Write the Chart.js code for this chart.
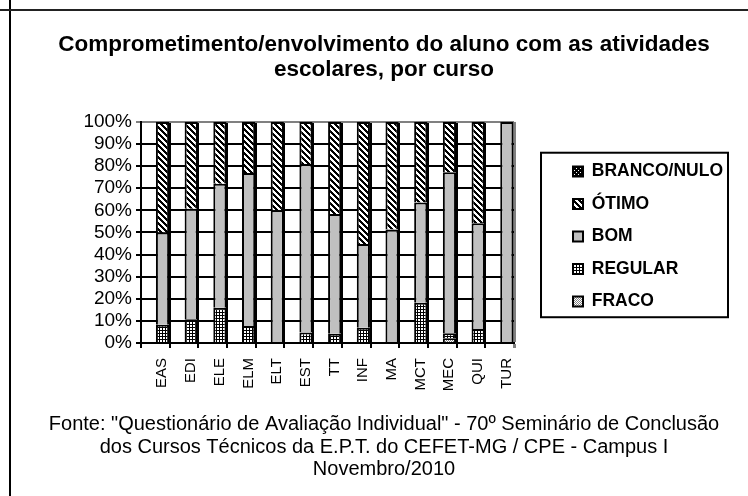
<!DOCTYPE html>
<html><head><meta charset="utf-8">
<script src="https://cdn.jsdelivr.net/npm/chart.js@4.4.1/dist/chart.umd.min.js"></script>
<style>
html,body{margin:0;padding:0;background:#fff;}
#wrap{position:relative;width:748px;height:496px;overflow:hidden;background:#fff;}
canvas{position:absolute;left:0;top:0;}
.vline{position:absolute;left:9px;top:0;width:2px;height:496px;background:#000;}
.hline{position:absolute;left:0;top:9px;width:748px;height:2px;background:#222;}
</style></head><body>
<div id="wrap"><canvas id="c" width="748" height="496"></canvas><div class="vline"></div><div class="hline"></div></div>
<script>
const categories = ['EAS','EDI','ELE','ELM','ELT','EST','TT','INF','MA','MCT','MEC','QUI','TUR'];
const fraco      = [0, 0, 0, 0, 0, 0, 0, 0, 0, 0, 2.2, 0, 0];
const regular    = [8.3, 10.7, 16.0, 7.7, 0, 4.8, 4.2, 6.9, 0, 18.2, 2.2, 6.3, 0];
const bom        = [41.7, 50.0, 56.0, 69.2, 60.0, 76.2, 54.2, 37.9, 51.4, 45.4, 72.9, 47.9, 100];
const otimo      = [50.0, 39.3, 28.0, 23.1, 40.0, 19.0, 41.6, 55.2, 48.6, 36.4, 22.7, 45.8, 0];
const brancoNulo = [0, 0, 0, 0, 0, 0, 0, 0, 0, 0, 0, 0, 0];
const seriesNames = ['FRACO', 'REGULAR', 'BOM', 'ÓTIMO', 'BRANCO/NULO'];
const yTickLabels = ['0%','10%','20%','30%','40%','50%','60%','70%','80%','90%','100%'];
const titleLines = ['Comprometimento/envolvimento do aluno com as atividades', 'escolares, por curso'];
const footerLines = ['Fonte: "Questionário de Avaliação Individual" - 70º Seminário de Conclusão',
                     'dos Cursos Técnicos da E.P.T. do CEFET-MG / CPE - Campus I',
                     'Novembro/2010'];

const FONT = "'Liberation Sans', Arial, sans-serif";
const canvas = document.getElementById('c');
const ctx = canvas.getContext('2d');

function makePattern(size, paint) {
  const c = document.createElement('canvas');
  c.width = size; c.height = size;
  const g = c.getContext('2d');
  paint(g, size);
  return ctx.createPattern(c, 'repeat');
}
const patOtimo = makePattern(6, (g, s) => {
  g.fillStyle = '#fff'; g.fillRect(0, 0, s, s);
  g.fillStyle = '#000';
  for (let y = 0; y < s; y++) for (let x = 0; x < s; x++)
    if ((((x - y) % s) + s) % s < 3) g.fillRect(x, y, 1, 1);
});
const patRegular = makePattern(3, (g, s) => {
  g.fillStyle = '#fff'; g.fillRect(0, 0, s, s);
  g.fillStyle = '#000'; g.fillRect(0, 0, s, 1); g.fillRect(0, 0, 1, s);
});
const patFraco = makePattern(2, (g, s) => {
  g.fillStyle = '#fff'; g.fillRect(0, 0, s, s);
  g.fillStyle = '#808080'; g.fillRect(0, 0, 1, 1); g.fillRect(1, 1, 1, 1);
});
const patBranco = makePattern(4, (g, s) => {
  g.fillStyle = '#000'; g.fillRect(0, 0, s, s);
  g.fillStyle = '#fff'; g.fillRect(0, 0, 1, 1); g.fillRect(2, 2, 1, 1);
});

const legendBorder = {
  id: 'legendBorder',
  afterDraw(chart) {
    const L = chart.legend;
    if (!L || !L.legendHitBoxes || !L.legendHitBoxes.length) return;
    const hb = L.legendHitBoxes;
    const last = hb[hb.length - 1];
    const c = chart.ctx;
    c.save();
    c.strokeStyle = '#000';
    c.lineWidth = 2;
    const x1 = hb[0].left - 32;
    const x2 = Math.max(...hb.map(h => h.left + h.width)) + 5;
    const y1 = hb[0].top - 10, y2 = last.top + last.height + 7;
    c.strokeRect(x1, y1, x2 - x1, y2 - y1);
    c.restore();
  }
};

new Chart(ctx, {
  type: 'bar',
  data: {
    labels: categories,
    datasets: [
      { label: '', data: [], stack: 'pad' },
      { label: seriesNames[0], data: fraco, backgroundColor: patFraco, stack: 's' },
      { label: seriesNames[1], data: regular, backgroundColor: patRegular, stack: 's' },
      { label: seriesNames[2], data: bom, backgroundColor: '#C0C0C0', stack: 's' },
      { label: seriesNames[3], data: otimo, backgroundColor: patOtimo, stack: 's' },
      { label: seriesNames[4], data: brancoNulo, backgroundColor: patBranco, stack: 's' }
    ]
  },
  options: {
    responsive: false,
    animation: false,
    devicePixelRatio: 1,
    datasets: { bar: { borderColor: '#000', borderWidth: 2, categoryPercentage: 1, barPercentage: 0.92 } },
    layout: { padding: { left: 35, right: 15, top: 0, bottom: 15 } },
    plugins: {
      title: {
        display: true, text: titleLines, color: '#000',
        font: { family: FONT, size: 22.5, weight: 'bold', lineHeight: 1.11 },
        padding: { top: 32.5, bottom: 39.5 }
      },
      subtitle: {
        display: true, position: 'bottom', text: footerLines, color: '#000',
        font: { family: FONT, size: 20, weight: 'normal', lineHeight: 1.125 },
        padding: { top: 10.5, bottom: 0 }
      },
      legend: {
        position: 'right', fullSize: false, reverse: true, maxWidth: 320,
        title: { display: true, text: '', padding: 0, font: { size: 8, lineHeight: 1 } },
        labels: {
          filter: (item) => item.text !== '',
          boxWidth: 10, boxHeight: 10, padding: 15, color: '#000',
          font: { family: FONT, size: 17.5, weight: 'bold' }
        }
      },
      tooltip: { enabled: false }
    },
    scales: {
      x: {
        stacked: true,
        grid: {
          offset: true, tickLength: 5,
          color: (c) => c.type === 'scale' ? '#808080' : '#000',
          lineWidth: (c) => c.type === 'scale' ? 3 : 2
        },
        border: { color: '#000', width: 2 },
        ticks: {
          minRotation: 90, maxRotation: 90, labelOffset: 7, padding: 10, color: '#000', autoSkip: false,
          font: { family: FONT, size: 15 }
        },
        afterFit: (s) => { s.height = 60; }
      },
      y: {
        stacked: true, min: 0, max: 100,
        ticks: {
          stepSize: 10, padding: 4, color: '#000', autoSkip: false,
          font: { family: FONT, size: 19 },
          callback: (v, i) => yTickLabels[i]
        },
        grid: {
          tickLength: 5,
          color: (c) => (c.tick && c.tick.value === 100) ? '#808080' : '#000',
          lineWidth: 2
        },
        border: { color: '#000', width: 2 },
        afterFit: (s) => { s.width = 106; }
      },
      gap: {
        type: 'linear', position: 'right', display: false,
        afterFit: (s) => { s.width = 44; }
      }
    }
  },
  plugins: [legendBorder]
});
</script>
</body></html>
